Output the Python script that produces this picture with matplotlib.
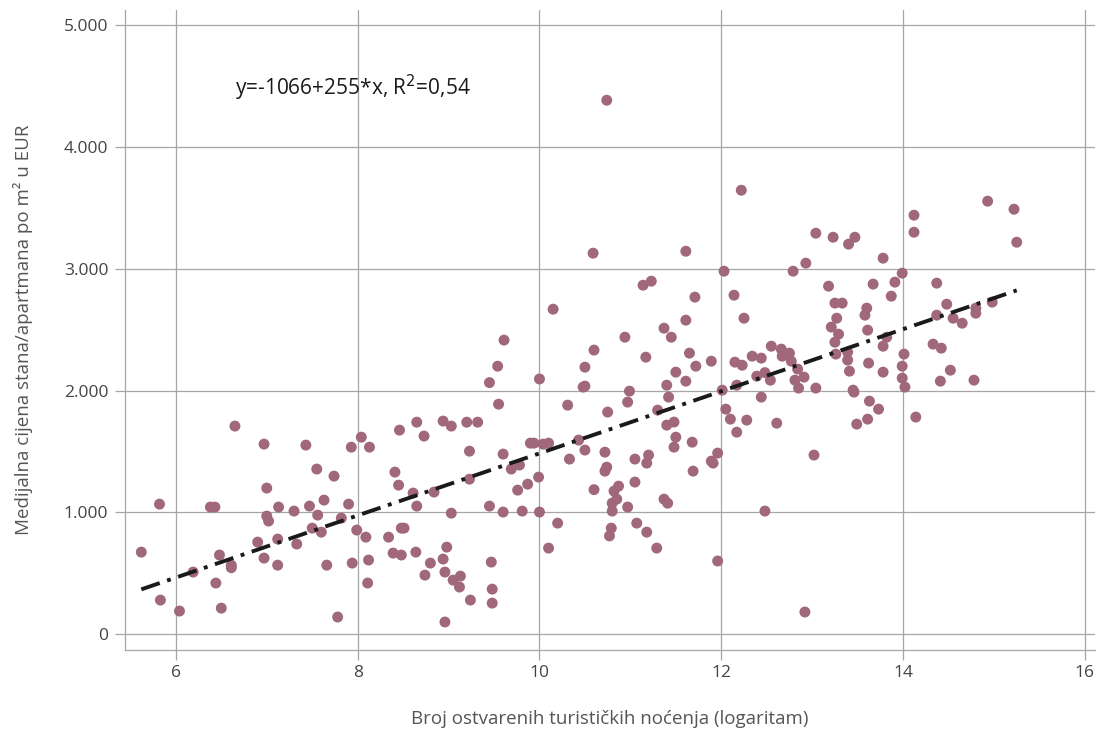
import matplotlib
matplotlib.use("Agg")
import matplotlib.pyplot as plt
import matplotlib.ticker as mticker

# data: (log nights, median price EUR/m2)
log_nights = [
    5.62, 5.82, 5.83, 6.04, 6.19, 6.38, 6.43, 6.44, 6.48, 6.50, 6.61, 6.61, 6.65, 6.90, 6.97, 6.97, 7.00, 7.00, 7.02,
    7.12, 7.12, 7.13, 7.30, 7.33, 7.43, 7.47, 7.50, 7.55, 7.56, 7.60, 7.63, 7.66, 7.74, 7.78, 7.82, 7.90, 7.93, 7.94,
    7.99, 8.04, 8.09, 8.11, 8.12, 8.13,
    8.34, 8.39, 8.41, 8.45, 8.46, 8.48, 8.51, 8.48, 8.61, 8.64, 8.65, 8.65, 8.73, 8.74, 8.80, 8.84, 8.94, 8.94, 8.96,
    8.96, 8.98, 9.03, 9.03, 9.05, 9.12, 9.13, 9.20, 9.23, 9.23, 9.24, 9.32, 9.45, 9.45, 9.47, 9.48, 9.48,
    9.54, 9.55, 9.60, 9.60, 9.61, 9.69, 9.76, 9.78, 9.81, 9.87, 9.90, 9.94, 9.99, 10.00, 10.00, 10.04, 10.10, 10.10,
    10.15, 10.20, 10.31, 10.33, 10.43, 10.48, 10.50, 10.50, 10.50,
    10.59, 10.60, 10.60, 10.72, 10.72, 10.74, 10.75, 10.74, 10.77, 10.79, 10.80, 10.80, 10.82, 10.85, 10.87, 10.94,
    10.97, 10.97, 10.99, 11.05, 11.05, 11.07, 11.14, 11.17, 11.18, 11.18, 11.20, 11.23, 11.29, 11.30, 11.37, 11.37,
    11.40, 11.40, 11.41, 11.42, 11.45, 11.48, 11.48, 11.50, 11.50,
    11.61, 11.61, 11.61, 11.65, 11.68, 11.69, 11.71, 11.72, 11.89, 11.89, 11.91, 11.96, 11.96, 12.01, 12.03, 12.05,
    12.10, 12.14, 12.15, 12.17, 12.17, 12.22, 12.23, 12.25, 12.28, 12.34, 12.39, 12.44, 12.44, 12.48, 12.48,
    12.55, 12.54, 12.61, 12.66, 12.67, 12.75, 12.77, 12.79, 12.81, 12.84, 12.85, 12.91, 12.92, 12.93, 13.02, 13.04,
    13.04, 13.18, 13.21, 13.23, 13.25, 13.25, 13.26, 13.27, 13.29, 13.33, 13.39, 13.39, 13.40, 13.41, 13.45, 13.46,
    13.47, 13.49,
    13.58, 13.60, 13.61, 13.61, 13.62, 13.63, 13.67, 13.73, 13.78, 13.78, 13.78, 13.82, 13.87, 13.91, 13.99, 13.99,
    13.99, 14.01, 14.02, 14.12, 14.12, 14.14, 14.33, 14.37, 14.37, 14.41, 14.42, 14.48, 14.52, 14.55, 14.65, 14.78,
    14.80, 14.80, 14.93, 14.98, 15.22, 15.25,
]
price = [
    673, 1067, 279, 189, 509, 1043, 1043, 419, 649, 213, 566, 545, 1708, 755, 1560, 624, 1199, 969, 928,
    780, 566, 1043, 1010, 739, 1552, 1051, 870, 1355, 977, 837, 1100, 566, 1297, 140, 952, 1067, 1535, 583,
    854, 1617, 796, 419, 608, 1535,
    796, 665, 1330, 1223, 1675, 870, 870, 649, 1158, 673, 1740, 1051, 1626, 484, 583, 1166, 1749, 616, 509,
    99, 714, 1708, 993, 443, 386, 476, 1740, 1502, 1272, 279, 1740, 2065, 1051, 591, 369, 254,
    2200, 1888, 1478, 1002, 2414, 1355, 1182, 1388, 1010, 1231, 1568, 1568, 1289, 2095, 1002, 1560, 1568, 706,
    2668, 911, 1880, 1437, 1593, 2028, 2036, 2192, 1511,
    3128, 2332, 1186, 1494, 1338, 1371, 1823, 4384, 806, 870, 1075, 1010, 1174, 1108, 1215, 2438,
    1905, 1043, 1995, 1437, 1248, 911, 2865, 2274, 1404, 837, 1470, 2898, 706, 1839, 2512, 1108,
    2044, 1716, 1075, 1946, 2438, 1741, 1535, 2151, 1617,
    3144, 2578, 2077, 2307, 1576, 1338, 2767, 2200, 2241, 1420, 1404, 1486, 600, 2003, 2980, 1847,
    1765, 2783, 2233, 2044, 1658, 3645, 2208, 2594, 1757, 2282, 2118, 2266, 1946, 2147, 1010,
    2364, 2085, 1732, 2340, 2282, 2307, 2241, 2980, 2085, 2176, 2020, 2110, 181, 3046, 1470, 3292,
    2020, 2857, 2521, 3259, 2718, 2397, 2299, 2594, 2463, 2718, 2315, 2250, 3202, 2159, 2003, 1987,
    3259, 1724,
    2619, 2677, 2496, 1765, 2225, 1913, 2874, 1847, 3087, 2364, 2151, 2438, 2775, 2890, 2964, 2200,
    2102, 2299, 2028, 3440, 3300, 1782, 2381, 2882, 2619, 2077, 2348, 2709, 2167, 2594, 2553, 2085,
    2677, 2635, 3555, 2726, 3489, 3218,
]

intercept = -1066
slope = 255
r2_text = "y=-1066+255*x, R$^2$=0,54"
x_ticks = [6, 8, 10, 12, 14, 16]
y_ticks = [0, 1000, 2000, 3000, 4000, 5000]
x_label = "Broj ostvarenih turističkih noćenja (logaritam)"
y_label = "Medijalna cijena stana/apartmana po m² u EUR"

plt.rcParams['font.family'] = ['Open Sans', 'DejaVu Sans']

fig = plt.figure(figsize=(10.96, 7.32), dpi=100)
ax = fig.add_axes([0.114, 0.112, 0.885, 0.874])

grid_c = "#a6a6a6"
ax.set_xlim(5.44, 16.11)
ax.set_ylim(-131, 5123)
ax.set_xticks(x_ticks)
ax.set_yticks(y_ticks)
ax.yaxis.set_major_formatter(mticker.FuncFormatter(lambda v, p: f"{int(v):,}".replace(",", ".")))
ax.grid(True, color=grid_c, linewidth=0.9)
ax.set_axisbelow(True)
for s in ["top", "right"]:
    ax.spines[s].set_visible(False)
for s in ["left", "bottom"]:
    ax.spines[s].set_color(grid_c)
    ax.spines[s].set_linewidth(0.9)
ax.tick_params(axis="both", colors=grid_c, length=7, width=0.9, labelsize=12.5, labelcolor="#444444")
ax.tick_params(axis="y", pad=5)

ax.scatter(log_nights, price, s=62, color="#a0687a", edgecolors="none", zorder=3)

xs = [min(log_nights), max(log_nights)]
ys = [intercept + slope * v for v in xs]
ax.plot(xs, ys, color="#1a1a1a", linewidth=2.8, linestyle=(0, (5, 2, 1, 2)), zorder=4)

ax.text(6.65, 4483, r2_text, fontsize=15, color="#1a1a1a", va="center", ha="left")

ax.set_xlabel(x_label, fontsize=13.5, color="#555555", labelpad=21)
ax.set_ylabel(y_label, fontsize=13.5, color="#555555", labelpad=22)

fig.savefig("out.png", dpi=100)
